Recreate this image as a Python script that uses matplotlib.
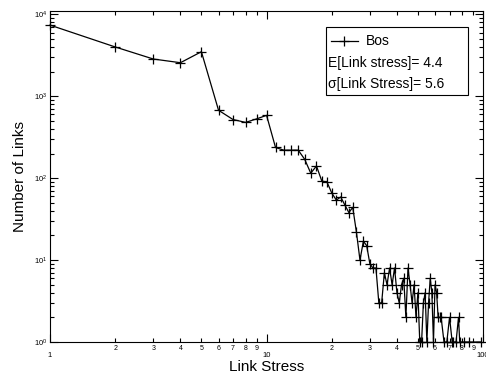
import numpy as np
import matplotlib
matplotlib.use('Agg')
import matplotlib.pyplot as plt
from matplotlib.ticker import FixedLocator, FixedFormatter, LogLocator, LogFormatterMathtext, NullFormatter
from matplotlib.patches import Rectangle
from matplotlib.lines import Line2D

plt.rcParams['font.family'] = ['Liberation Sans', 'DejaVu Sans']
plt.rcParams['mathtext.fontset'] = 'custom'
plt.rcParams['mathtext.rm'] = 'Liberation Sans'

# link stress values and number of links
stress = [1, 2, 3, 4, 5, 6, 7, 8, 9, 10,
          11, 12, 13, 14, 15, 16, 17, 18, 19, 20,
          21, 22, 23, 24, 25, 26, 27, 28, 29, 30,
          31, 32, 33, 34, 35, 36, 37, 38, 39, 40,
          41, 42, 43, 44, 45, 46, 47, 48, 49, 50,
          51, 52, 53, 54, 55, 56, 57, 58, 59, 60,
          61, 62, 63, 64, 66, 68, 70, 72, 73, 75,
          77, 78, 82, 86, 98]
links = [7400, 4000, 2850, 2570, 3500, 675, 520, 480, 530, 585,
         237, 220, 220, 220, 170, 115, 141, 92, 90, 66,
         54, 59, 47, 38, 44, 22, 10, 17, 15, 9,
         8, 8, 3, 3, 7, 5, 8, 5, 8, 4,
         3, 5, 6, 2, 8, 5, 3, 5, 2, 4,
         1, 1, 3, 4, 1, 3, 6, 4, 1, 5,
         4, 2, 2, 2, 1, 1, 2, 1, 1, 1,
         2, 1, 1, 1, 1]

legend_lines = ['Bos', 'E[Link stress]= 4.4', u'\u03c3[Link Stress]= 5.6']

fig = plt.figure(figsize=(4.86, 3.74), dpi=100)
ax = fig.add_axes([0.103, 0.0856, 0.891, 0.885])

ax.plot(stress, links, color='black', linewidth=0.9, marker='+', markersize=7,
        markeredgewidth=0.9, clip_on=False)
ax.set_xscale('log')
ax.set_yscale('log')
ax.set_xlim(1, 100)
ax.set_ylim(1, 1.1e4)

# x ticks: majors 1, 10, 100 and labelled minors
ax.xaxis.set_major_locator(FixedLocator([1, 10, 100]))
ax.xaxis.set_major_formatter(FixedFormatter(['1', '10', '100']))
minors = [m * d for d in (1, 10) for m in range(2, 10)]
ax.xaxis.set_minor_locator(FixedLocator(minors))
ax.xaxis.set_minor_formatter(FixedFormatter([str(m) for d in (1, 10) for m in range(2, 10)]))

ax.yaxis.set_major_locator(LogLocator(base=10, numticks=10))
ax.yaxis.set_major_formatter(LogFormatterMathtext())
ax.yaxis.set_minor_locator(LogLocator(base=10, subs=np.arange(2, 10), numticks=10))
ax.yaxis.set_minor_formatter(NullFormatter())

ax.tick_params(which='both', direction='in', top=True, right=True, width=0.8, colors='black')
ax.tick_params(which='major', length=6)
ax.tick_params(which='minor', length=3)
ax.tick_params(axis='x', which='major', labelsize=5.5, pad=7)
ax.tick_params(axis='x', which='minor', labelsize=5, pad=2)
ax.tick_params(axis='y', which='major', labelsize=5.5, pad=2)
for s in ax.spines.values():
    s.set_linewidth(0.8)

ax.set_xlabel('Link Stress', fontsize=11, labelpad=1)
ax.set_ylabel('Number of Links', fontsize=11, labelpad=5)

# legend box drawn by hand (MATLAB style, extra text rows without handles)
ax.add_patch(Rectangle((0.637, 0.746), 0.328, 0.206, transform=ax.transAxes,
                       facecolor='white', edgecolor='black', linewidth=0.8, zorder=5))
ax.add_line(Line2D([0.648, 0.710], [0.908, 0.908], transform=ax.transAxes,
                   color='black', linewidth=0.9, zorder=6))
ax.add_line(Line2D([0.679], [0.908], transform=ax.transAxes, color='black',
                   marker='+', markersize=7, markeredgewidth=0.9, zorder=6))
ax.text(0.729, 0.908, legend_lines[0], transform=ax.transAxes, fontsize=10, va='center', zorder=6)
ax.text(0.641, 0.843, legend_lines[1], transform=ax.transAxes, fontsize=10, va='center', zorder=6)
ax.text(0.641, 0.779, legend_lines[2], transform=ax.transAxes, fontsize=10, va='center', zorder=6)

fig.savefig('out.png', dpi=100)
